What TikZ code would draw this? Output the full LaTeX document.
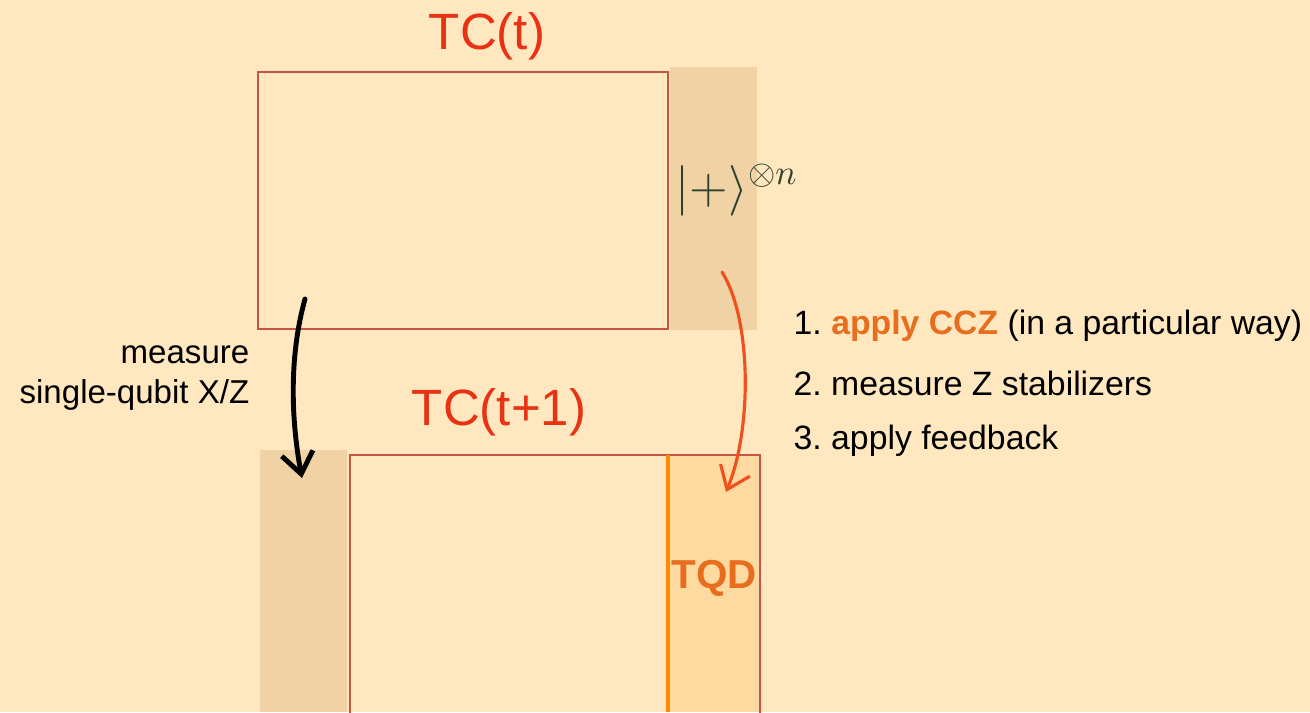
\documentclass[tikz,border=0pt]{standalone}
\usepackage{fontspec}
\setmainfont{Liberation Sans}
\usetikzlibrary{arrows.meta,positioning}
\definecolor{slidebg}{RGB}{255,232,191}
\definecolor{stripfill}{RGB}{240,210,165}
\definecolor{boxline}{RGB}{200,85,65}
\definecolor{tqdfill}{RGB}{255,218,160}
\definecolor{tqdline}{RGB}{255,140,0}
\definecolor{penred}{RGB}{232,50,20}
\definecolor{arrred}{RGB}{240,80,30}
\definecolor{tqdtext}{RGB}{230,110,30}
\definecolor{penink}{RGB}{45,65,45}
\frenchspacing
\tikzset{
  codebox/.style={draw=boxline,line width=.6pt},
  handlabel/.style={text=penred,font=\fontsize{14.5}{15}\selectfont},
  steptext/.style={anchor=west,inner sep=0pt,font=\fontsize{9.6}{11}\selectfont},
  pen/.style={line width=1.4pt,line cap=round,-{Straight Barb[length=6pt,width=9pt,line width=1.4pt]}}
}

\begin{document}
\begin{tikzpicture}[x=.01cm,y=-.01cm]
    \useasboundingbox (0,0) rectangle (1310,712);
    \fill[slidebg] (0,0) rectangle (1310,712);
    % new qubits beside TC(t), discarded ones beside TC(t+1)
    \fill[stripfill] (670,67) rectangle (757,330);
    \fill[stripfill] (260,450) rectangle (347,712);
    \fill[tqdfill] (668,455) rectangle (760,712);
    \draw[codebox] (258,72) rectangle (668,329);
    \draw[codebox] (350,455) rectangle (760,720);
    \draw[tqdline,line width=.9pt] (668,455)--(668,712);
    \node[handlabel] (tct) at (487,36) {TC(t)};
    \node[handlabel] (tcnext) at (499,412) {TC(t+1)};
    \node[text=penink,font=\fontsize{14}{14}\selectfont,inner sep=0pt] (plus) at (737,190) {$| + \rangle^{\otimes n}$};
    \node[text=tqdtext,font=\fontsize{11.5}{12}\selectfont\bfseries] (tqd) at (714,578) {TQD};
    \node[align=right,anchor=east,inner sep=0pt,font=\fontsize{9.4}{11.6}\selectfont] (meas) at (250,378) {measure\\single-qubit X/Z};
    \node[steptext] (s1) at (793,326) {1. \textcolor{tqdtext}{\bfseries apply CCZ} (in a particular way)};
    \node[steptext] (s2) at (793,383) {2. measure Z stabilizers};
    \node[steptext] (s3) at (793,441) {3. apply feedback};
    \coordinate (mfrom) at (305,299);
    \coordinate (mto) at (302,478);
    \coordinate (cfrom) at (722,272);
    \coordinate (cto) at (726,492);
    \draw[pen] (mfrom) .. controls (288,360) and (292,425) .. (mto);
    \draw[pen,arrred,line width=.9pt,-{Straight Barb[length=6pt,width=9pt,line width=.9pt]}] (cfrom) .. controls (752,320) and (752,430) .. (cto);
\end{tikzpicture}
\end{document}
